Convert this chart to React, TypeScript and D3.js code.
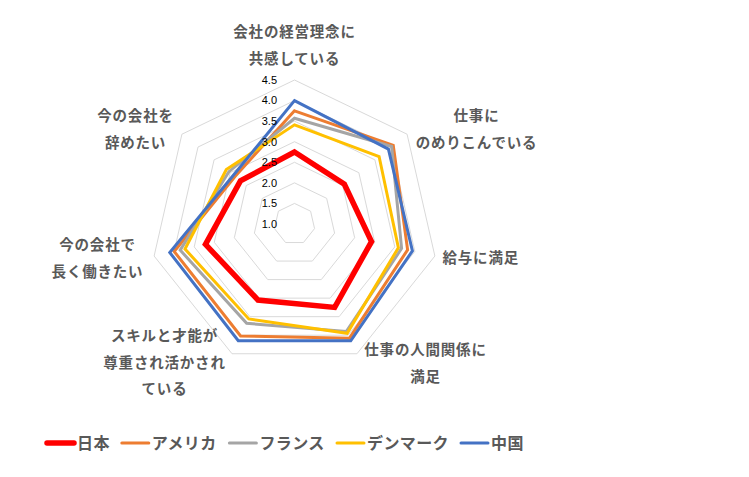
import React from 'react';
import * as d3 from 'd3';

const categories = [
  ['会社の経営理念に', '共感している'],
  ['仕事に', 'のめりこんでいる'],
  ['給与に満足'],
  ['仕事の人間関係に', '満足'],
  ['スキルと才能が', '尊重され活かされ', 'ている'],
  ['今の会社で', '長く働きたい'],
  ['今の会社を', '辞めたい'],
];

const seriesNames = ['日本', 'アメリカ', 'フランス', 'デンマーク', '中国'];
const japan = [2.75, 2.55, 2.92, 3.25, 3.05, 3.22, 2.68];
const usa = [3.75, 4.07, 3.82, 4.08, 4.02, 4.0, 2.85];
const france = [3.57, 4.02, 3.67, 3.9, 3.68, 3.85, 3.04];
const denmark = [3.41, 3.63, 3.59, 3.95, 3.56, 3.73, 3.12];
const china = [4.0, 3.92, 3.94, 4.15, 4.15, 4.11, 2.9];
const seriesValues = [japan, usa, france, denmark, china];

const tickValues = [1.0, 1.5, 2.0, 2.5, 3.0, 3.5, 4.0, 4.5];

const colors = ['#FF0000', '#ED7D31', '#A5A5A5', '#FFC000', '#4472C4'];
const widths = [5.5, 3, 3, 3, 3];

const W = 749;
const H = 477;
const cx = 294.5;
const cy = 224;
const R = 144;

// label anchors: [dx, dy of first line, anchor]
const labelPos: [number, number, 'middle' | 'start'][] = [
  [0, -192, 'middle'],
  [182, -108, 'middle'],
  [148, 34, 'start'],
  [131, 126, 'middle'],
  [-130, 112, 'middle'],
  [-197, 21, 'middle'],
  [-159, -108, 'middle'],
];

const labelFont = '"Noto Sans CJK JP", "Noto Sans", sans-serif';

export default function App() {
  const n = categories.length;
  const angle = (i: number) => (i * 2 * Math.PI) / n;
  const r = d3.scaleLinear().domain([1, 4.5]).range([0, R]);

  const radar = d3
    .lineRadial<number>()
    .angle((_, i) => angle(i))
    .radius((d) => r(d))
    .curve(d3.curveLinearClosed);

  const ring = d3
    .lineRadial<number>()
    .angle((_, i) => angle(i))
    .radius((d) => d)
    .curve(d3.curveLinearClosed);

  // legend layout
  const legendY = 443;
  let lx = 47;
  const legendItems = seriesNames.map((name, i) => {
    const item = { name, i, x0: lx, x1: lx + 27, tx: lx + 30 };
    lx = item.tx + name.length * 16.4 + 12;
    return item;
  });

  return (
    <svg
      width={W}
      height={H}
      style={{ position: 'absolute', left: 0, top: 0, background: '#fff' }}
    >
      <g transform={`translate(${cx},${cy})`}>
        {tickValues.slice(1).map((t) => (
          <path
            key={t}
            d={ring(d3.range(n).map(() => r(t))) || ''}
            fill="none"
            stroke="#D9D9D9"
            strokeWidth={1}
          />
        ))}
        {seriesValues.map((vals, i) => (
          <path
            key={i}
            d={radar(vals) || ''}
            fill="none"
            stroke={colors[i]}
            strokeWidth={widths[i]}
            strokeLinejoin="miter"
          />
        ))}
        {tickValues.map((t) => (
          <text
            key={t}
            x={-17.5}
            y={-r(t)}
            dy="0.35em"
            textAnchor="end"
            fontSize={11}
            fontFamily='"Liberation Sans", Arial, sans-serif'
            fill="#000"
          >
            {t.toFixed(1)}
          </text>
        ))}
        {categories.map((lines, i) => (
          <text
            key={i}
            textAnchor={labelPos[i][2]}
            fontSize={14.5}
            fontWeight="bold"
            fontFamily={labelFont}
            fill="#595959"
            letterSpacing={0.8}
          >
            {lines.map((ln, j) => (
              <tspan
                key={j}
                x={labelPos[i][0]}
                y={labelPos[i][1] + j * 26.5}
                dy="0.35em"
              >
                {ln}
              </tspan>
            ))}
          </text>
        ))}
      </g>
      <g>
        {legendItems.map((it) => (
          <g key={it.name}>
            <line
              x1={it.x0}
              x2={it.x1}
              y1={legendY}
              y2={legendY}
              stroke={colors[it.i]}
              strokeWidth={widths[it.i]}
              strokeLinecap="round"
            />
            <text
              x={it.tx}
              y={legendY}
              dy="0.36em"
              fontSize={16}
              fontWeight="bold"
              fontFamily={labelFont}
              fill="#595959"
              letterSpacing={0.4}
            >
              {it.name}
            </text>
          </g>
        ))}
      </g>
    </svg>
  );
}
